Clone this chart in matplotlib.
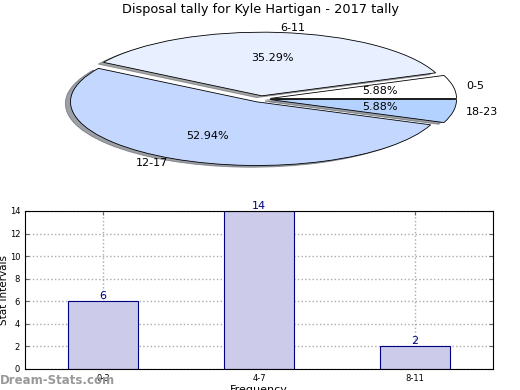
import matplotlib
matplotlib.use("Agg")
import matplotlib.pyplot as plt

# pie data
pie_labels = ["0-5", "6-11", "12-17", "18-23"]
pie_values = [1, 6, 9, 1]
pie_colors = ["#ffffff", "#e8f0ff", "#c4d8ff", "#b4d2ff"]

# bar data
bar_labels = ["0-3", "4-7", "8-11"]
bar_values = [6, 14, 2]

title = "Disposal tally for Kyle Hartigan - 2017 tally"

fig = plt.figure(figsize=(5.2, 3.9), dpi=100)
W, H = 520.0, 390.0

# pie axes, stretched into an ellipse
ax1 = fig.add_axes([56 / W, (390 - 99 - 70) / H, 410 / W, 140 / H])
wedges, texts, autotexts = ax1.pie(
    pie_values, labels=pie_labels, colors=pie_colors, autopct="%.2f%%",
    explode=[0.05] * len(pie_values), shadow=True, startangle=0,
    pctdistance=0.6, labeldistance=1.07,
    wedgeprops=dict(edgecolor="black", linewidth=0.6),
    textprops=dict(fontsize=8))
ax1.set_aspect("auto")
ax1.set_xlim(-1.1, 1.1)
ax1.set_ylim(-1.1, 1.1)
ax1.axis("off")
fig.text(260 / W, 1 - 10 / H, title, ha="center", va="center", fontsize=9.3)

# bar axes
ax2 = fig.add_axes([25 / W, (390 - 369) / H, 468 / W, 158 / H])
x = range(len(bar_values))
ax2.bar(x, bar_values, width=0.45, color="#ccccea", edgecolor="#000080", linewidth=0.8, zorder=2)
for i, v in enumerate(bar_values):
    ax2.text(i, v, str(v), ha="center", va="bottom", color="#000080", fontsize=8)
ax2.set_xlim(-0.5, 2.5)
ax2.set_ylim(0, 14)
ax2.set_yticks(range(0, 15, 2))
ax2.set_xticks(list(x))
ax2.set_xticklabels(bar_labels)
ax2.tick_params(labelsize=6, direction="in", top=True, right=True, length=3, color="#666666")
ax2.grid(True, linestyle=":", color="#aaaaaa", linewidth=1, zorder=0)
ax2.set_axisbelow(True)
ax2.set_ylabel("Stat Intervals", fontsize=7.5)
ax2.yaxis.set_label_coords(-0.034, 0.5)
ax2.set_xlabel("Frequency", fontsize=8)
ax2.xaxis.set_label_coords(0.5, -0.1)
for s in ax2.spines.values():
    s.set_linewidth(0.8)

fig.text(0 / W, 1 - 381 / H, "Dream-Stats.com", ha="left", va="center",
         fontsize=8.5, color="#999999", fontweight="semibold")

plt.savefig("out.png", dpi=100)
